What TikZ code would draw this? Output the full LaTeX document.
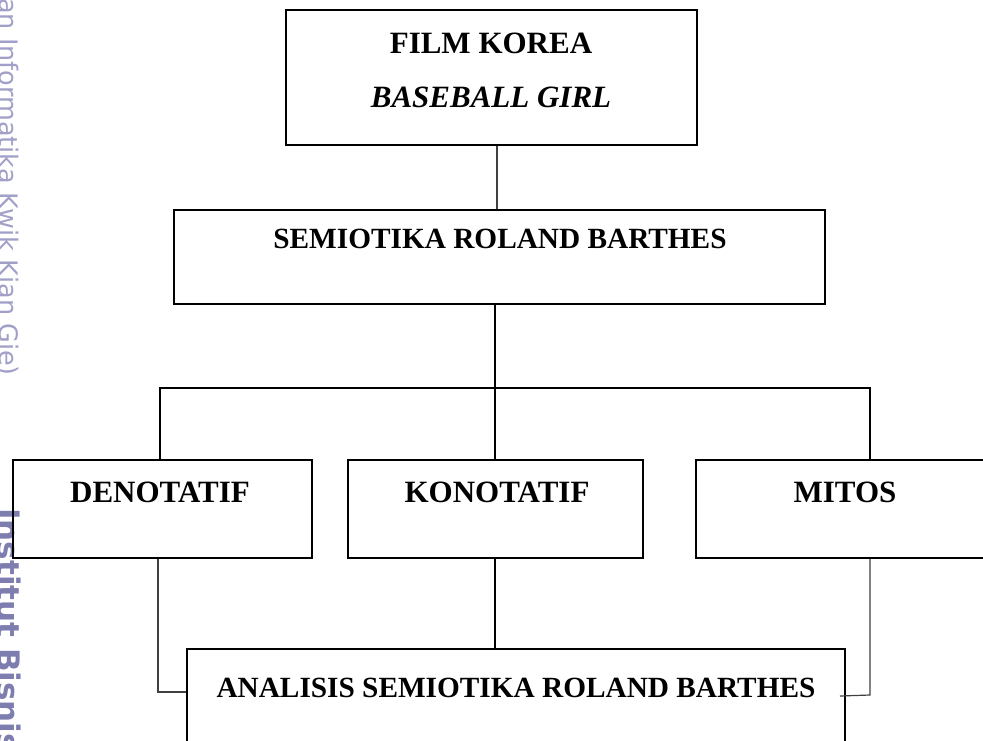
\documentclass[tikz,border=0pt]{standalone}
\usepackage{fontspec}
\setmainfont{Liberation Serif}
\newfontfamily\wmfont{DejaVu Sans}
\definecolor{wmA}{RGB}{160,160,200}
\definecolor{wmB}{RGB}{125,125,175}
\begin{document}
\begin{tikzpicture}[x=1pt,y=-1pt,
  box/.style={draw=black, line width=2pt, rectangle, inner sep=0pt},
  lbl/.style={font=\fontsize{31}{37}\selectfont\bfseries, inner sep=0pt, anchor=base},
  lbls/.style={font=\fontsize{29.3}{35}\selectfont\bfseries, inner sep=0pt, anchor=base},
  conn/.style={draw=black, line width=1.8pt},
  thinc/.style={draw=black!75, line width=1.2pt}]
\useasboundingbox (0,0) rectangle (983,740);
\fill[white] (0,0) rectangle (983,740);

% watermark
\node[rotate=-90, anchor=base west, inner sep=0pt, text=wmA, font=\wmfont\fontsize{25.5}{30}\selectfont] (wm1) at (-1,-2) {an Informatika Kwik Kian Gie)};
\node[rotate=-90, anchor=base west, inner sep=0pt, text=wmB, font=\wmfont\bfseries\fontsize{31}{36}\selectfont] (wm2) at (-2,508) {Institut Bisnis};

% boxes
\node[box, minimum width=411pt, minimum height=135pt] (film) at (491.5,77.5) {};
\node[box, minimum width=651pt, minimum height=94pt] (semio) at (499.5,257) {};
\node[box, minimum width=299pt, minimum height=98pt] (deno) at (162.5,509) {};
\node[box, minimum width=295pt, minimum height=98pt] (kono) at (495.5,509) {};
\node[box, minimum width=300pt, minimum height=98pt] (mitos) at (846,509) {};
\node[box, minimum width=658pt, minimum height=120pt] (anal) at (516,709) {};

% texts
\node[lbl] (t1) at (491,53) {FILM KOREA};
\node[lbl] (t2) at (491,107) {\itshape BASEBALL GIRL};
\node[lbls] (t3) at (500,248) {SEMIOTIKA ROLAND BARTHES};
\node[lbl] (t4) at (160,502) {DENOTATIF};
\node[lbl] (t5) at (497,502) {KONOTATIF};
\node[lbl] (t6) at (845,502) {MITOS};
\node[lbls] (t7) at (516,697) {ANALISIS SEMIOTIKA ROLAND BARTHES};

% connectors
\coordinate (a1) at (497,0);
\coordinate (hl) at (160,388);
\coordinate (hm) at (495,388);
\coordinate (hr) at (870,388);
\coordinate (dl) at (158,692);
\coordinate (mr) at (870,695);
\coordinate (me) at (840,696);

\draw[thinc] (film.south -| a1) -- (semio.north -| a1);
\draw[conn] (semio.south -| hm) -- (kono.north -| hm);
\draw[conn] (deno.north -| hl) -- (hl) -- (hr) -- (mitos.north -| hr);
\draw[conn] (kono.south -| hm) -- (anal.north -| hm);
\draw[thinc] (deno.south -| dl) -- (dl) -- (anal.west |- dl);
\draw[thinc] (mitos.south -| mr) -- (mr) -- (me);
\end{tikzpicture}
\end{document}
